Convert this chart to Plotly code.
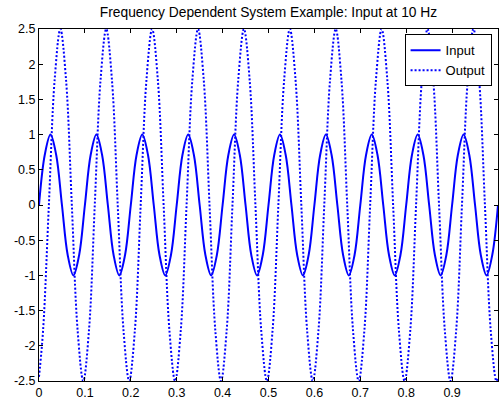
import plotly.graph_objects as go

# Time samples (s) and signal values read at eighth-period steps
t_input = [
    0.0, 0.0125, 0.025, 0.0375, 0.05, 0.0625, 0.075, 0.0875,
    0.1, 0.1125, 0.125, 0.1375, 0.15, 0.1625, 0.175, 0.1875,
    0.2, 0.2125, 0.225, 0.2375, 0.25, 0.2625, 0.275, 0.2875,
    0.3, 0.3125, 0.325, 0.3375, 0.35, 0.3625, 0.375, 0.3875,
    0.4, 0.4125, 0.425, 0.4375, 0.45, 0.4625, 0.475, 0.4875,
    0.5, 0.5125, 0.525, 0.5375, 0.55, 0.5625, 0.575, 0.5875,
    0.6, 0.6125, 0.625, 0.6375, 0.65, 0.6625, 0.675, 0.6875,
    0.7, 0.7125, 0.725, 0.7375, 0.75, 0.7625, 0.775, 0.7875,
    0.8, 0.8125, 0.825, 0.8375, 0.85, 0.8625, 0.875, 0.8875,
    0.9, 0.9125, 0.925, 0.9375, 0.95, 0.9625, 0.975, 0.9875,
    1.0,
]
input_values = [
    0, 0.71, 1, 0.71, 0, -0.71, -1, -0.71,
    0, 0.71, 1, 0.71, 0, -0.71, -1, -0.71,
    0, 0.71, 1, 0.71, 0, -0.71, -1, -0.71,
    0, 0.71, 1, 0.71, 0, -0.71, -1, -0.71,
    0, 0.71, 1, 0.71, 0, -0.71, -1, -0.71,
    0, 0.71, 1, 0.71, 0, -0.71, -1, -0.71,
    0, 0.71, 1, 0.71, 0, -0.71, -1, -0.71,
    0, 0.71, 1, 0.71, 0, -0.71, -1, -0.71,
    0, 0.71, 1, 0.71, 0, -0.71, -1, -0.71,
    0, 0.71, 1, 0.71, 0, -0.71, -1, -0.71,
    0,
]

t_output = [
    0.0,
    0.009, 0.0215, 0.034, 0.0465, 0.059, 0.0715, 0.084, 0.0965,
    0.109, 0.1215, 0.134, 0.1465, 0.159, 0.1715, 0.184, 0.1965,
    0.209, 0.2215, 0.234, 0.2465, 0.259, 0.2715, 0.284, 0.2965,
    0.309, 0.3215, 0.334, 0.3465, 0.359, 0.3715, 0.384, 0.3965,
    0.409, 0.4215, 0.434, 0.4465, 0.459, 0.4715, 0.484, 0.4965,
    0.509, 0.5215, 0.534, 0.5465, 0.559, 0.5715, 0.584, 0.5965,
    0.609, 0.6215, 0.634, 0.6465, 0.659, 0.6715, 0.684, 0.6965,
    0.709, 0.7215, 0.734, 0.7465, 0.759, 0.7715, 0.784, 0.7965,
    0.809, 0.8215, 0.834, 0.8465, 0.859, 0.8715, 0.884, 0.8965,
    0.909, 0.9215, 0.934, 0.9465, 0.959, 0.9715, 0.984, 0.9965,
    1.0,
]
output_values = [
    -2.44,
    -1.77, 0, 1.77, 2.5, 1.77, 0, -1.77, -2.5,
    -1.77, 0, 1.77, 2.5, 1.77, 0, -1.77, -2.5,
    -1.77, 0, 1.77, 2.5, 1.77, 0, -1.77, -2.5,
    -1.77, 0, 1.77, 2.5, 1.77, 0, -1.77, -2.5,
    -1.77, 0, 1.77, 2.5, 1.77, 0, -1.77, -2.5,
    -1.77, 0, 1.77, 2.5, 1.77, 0, -1.77, -2.5,
    -1.77, 0, 1.77, 2.5, 1.77, 0, -1.77, -2.5,
    -1.77, 0, 1.77, 2.5, 1.77, 0, -1.77, -2.5,
    -1.77, 0, 1.77, 2.5, 1.77, 0, -1.77, -2.5,
    -1.77, 0, 1.77, 2.5, 1.77, 0, -1.77, -2.5,
    -2.44,
]

x_ticks = [0, 0.1, 0.2, 0.3, 0.4, 0.5, 0.6, 0.7, 0.8, 0.9, 1]
x_tick_text = ["0", "0.1", "0.2", "0.3", "0.4", "0.5", "0.6", "0.7", "0.8", "0.9", "1"]
y_ticks = [-2.5, -2, -1.5, -1, -0.5, 0, 0.5, 1, 1.5, 2, 2.5]
y_tick_text = ["-2.5", "-2", "-1.5", "-1", "-0.5", "0", "0.5", "1", "1.5", "2", "2.5"]

FONT = "Arial, Liberation Sans, sans-serif"
BLUE = "#0000ff"

fig = go.Figure()
fig.add_trace(go.Scatter(
    x=t_input, y=input_values, name="Input", mode="lines",
    line=dict(color=BLUE, width=2, shape="spline"),
))
fig.add_trace(go.Scatter(
    x=t_output, y=output_values, name="Output", mode="lines",
    line=dict(color=BLUE, width=2, dash="2px,2px", shape="spline"),
))

axis_common = dict(
    showgrid=False, zeroline=False, showline=True, linecolor="black", linewidth=1,
    mirror="ticks", ticks="inside", ticklen=4, tickcolor="black", tickwidth=1,
    tickfont=dict(family=FONT, size=12.5, color="black"),
)
fig.update_xaxes(range=[0, 1], tickvals=x_ticks, ticktext=x_tick_text, **axis_common)
fig.update_yaxes(range=[-2.5, 2.5], tickvals=y_ticks, ticktext=y_tick_text, **axis_common)

fig.update_layout(
    width=499, height=400,
    margin=dict(l=39, r=1, t=29, b=19),
    paper_bgcolor="white", plot_bgcolor="white",
    title=dict(
        text="Frequency Dependent System Example: Input at 10 Hz",
        x=0.5, xref="paper", xanchor="center",
        y=1 - 12 / 400, yref="container", yanchor="middle",
        font=dict(family=FONT, size=13.8, color="black"),
    ),
    legend=dict(
        x=0.986, y=0.985, xanchor="right", yanchor="top",
        bgcolor="white", bordercolor="black", borderwidth=1,
        font=dict(family=FONT, size=13, color="black"),
        itemwidth=30, tracegroupgap=0,
    ),
    showlegend=True,
)

fig.write_html("out.html")
